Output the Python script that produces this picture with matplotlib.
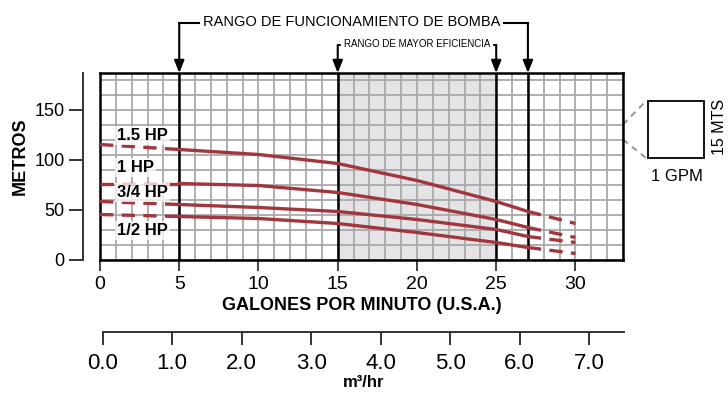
import matplotlib
matplotlib.use("Agg")
import matplotlib.pyplot as plt
from matplotlib.patches import Rectangle
from matplotlib.ticker import MultipleLocator, FormatStrFormatter

plt.rcParams['font.family'] = ['Liberation Sans', 'DejaVu Sans']

# ---------------- data ----------------
gpm_pts = [0, 5, 10, 15, 20, 25, 27, 30]
hp_labels = ["1.5 HP", "1 HP", "3/4 HP", "1/2 HP"]
hp_15 = [115, 110, 105, 96, 79, 58, 48, 36]
hp_1 = [76, 76, 74, 67, 55, 40, 32, 22]
hp_34 = [58, 55, 52, 48, 40, 30, 23, 17]
hp_12 = [45, 43, 41, 36, 27, 17, 12, 6]
label_y = [124, 92, 67, 29]
label_x = 1.1
gpm_ticks = [0, 5, 10, 15, 20, 25, 30]
m3_ticks = [0.0, 1.0, 2.0, 3.0, 4.0, 5.0, 6.0, 7.0]
y_ticks = [0, 50, 100, 150]
op_range = [5, 27]       # rango de funcionamiento
eff_range = [15, 25]     # rango de mayor eficiencia

W, H = 728, 398
fig = plt.figure(figsize=(W / 100, H / 100), dpi=100)

def fx(px):
    return px / W

def fy(py):
    return 1 - py / H

RED = "#a2363d"
GRID = "#a9a9a9"
x_max, y_max = 33, 186.5

# main grid axes
ax = fig.add_axes([fx(100), fy(259.5), fx(623) - fx(100), fy(73) - fy(259.5)])
ax.set_xlim(0, x_max)
ax.set_ylim(0, y_max)
ax.axvspan(eff_range[0], eff_range[1], color="#e4e4e6", zorder=0, lw=0)
ax.xaxis.set_major_locator(MultipleLocator(5))
ax.xaxis.set_minor_locator(MultipleLocator(1))
ax.set_yticks(list(range(0, 181, 15)))
ax.grid(True, which="both", color=GRID, lw=1.3, zorder=1)
ax.set_axisbelow(True)
ax.tick_params(axis="y", length=0, labelleft=False)
ax.tick_params(axis="x", which="major", length=8, width=1.2, direction="out",
               labelsize=14, pad=4, color="#222222")
ax.tick_params(axis="x", which="minor", length=0)
ax.set_xticks(gpm_ticks)
for s in ax.spines.values():
    s.set_linewidth(1.8)
    s.set_color("black")

for xv in op_range + eff_range:
    ax.axvline(xv, color="black", lw=1.8, zorder=3)

for vals in [hp_15, hp_1, hp_34, hp_12]:
    ax.plot(gpm_pts[:2], vals[:2], color=RED, lw=2.4, dashes=(4, 2.5), zorder=4)
    ax.plot(gpm_pts[1:7], vals[1:7], color=RED, lw=2.4, zorder=4)
    ax.plot(gpm_pts[6:], vals[6:], color=RED, lw=2.4, dashes=(4, 2.5), zorder=4)

for lab, yv in zip(hp_labels, label_y):
    ax.text(label_x, yv, lab, fontsize=12, fontweight="bold", ha="left", va="center",
            zorder=5, bbox=dict(boxstyle="square,pad=0.12", fc="white", ec="none", alpha=0.75))

ax.set_xlabel("GALONES POR MINUTO (U.S.A.)", fontsize=13, fontweight="bold", labelpad=3)

# bracket annotations (data coords above the axes)
y_top1 = y_max + 50
y_top2 = y_max + 28
arrow_kw = dict(arrowstyle="-|>,head_length=0.75,head_width=0.3", color="black", lw=1.5,
                shrinkA=0, shrinkB=0)
t1 = ax.text(15.85, y_top1 + 1.5, "RANGO DE FUNCIONAMIENTO DE BOMBA", fontsize=10.5,
             ha="center", va="center", clip_on=False)
t2 = ax.text(20.0, y_top2 + 1, "RANGO DE MAYOR EFICIENCIA", fontsize=7,
             ha="center", va="center", clip_on=False)
for r in [op_range, eff_range]:
    yt = y_top1 if r is op_range else y_top2
    ax.annotate("", xy=(r[0], y_max), xytext=(r[0], yt),
                arrowprops=arrow_kw, annotation_clip=False)
    ax.annotate("", xy=(r[1], y_max), xytext=(r[1], yt),
                arrowprops=arrow_kw, annotation_clip=False)

fig.canvas.draw()
inv = ax.transData.inverted()
gap = 4 / (523 / x_max)  # ~4 px in data units
for t, r, yt, lw in [(t1, op_range, y_top1, 1.5), (t2, eff_range, y_top2, 1.3)]:
    bb = t.get_window_extent()
    x0 = inv.transform((bb.x0, 0))[0]
    x1 = inv.transform((bb.x1, 0))[0]
    ax.plot([r[0], x0 - gap], [yt, yt], color="black", lw=lw, clip_on=False)
    ax.plot([x1 + gap, r[1]], [yt, yt], color="black", lw=lw, clip_on=False)

# inset legend square
ax.plot([33, 34.45], [135, 158.5], color="#999999", lw=1.5, ls=(0, (3, 2.5)), clip_on=False)
ax.plot([33, 34.45], [120, 101.5], color="#999999", lw=1.5, ls=(0, (3, 2.5)), clip_on=False)
ax.add_patch(Rectangle((34.55, 101.2), 3.55, 57.3, fill=False, ec="black", lw=1.3,
                       clip_on=False))
fig.text(fx(676.5), fy(176.5), "1 GPM", fontsize=12, ha="center", va="center")
fig.text(fx(720), fy(127), "15 MTS", fontsize=11.5, ha="center", va="center", rotation=90)

# detached y axis
ay = fig.add_axes([fx(82.5), fy(259.5), 0.0001, fy(73) - fy(259.5)])
ay.set_ylim(0, y_max)
ay.set_xticks([])
ay.set_yticks(y_ticks)
for k in ["top", "right", "bottom"]:
    ay.spines[k].set_visible(False)
ay.spines["left"].set_linewidth(1.4)
ay.spines["left"].set_color("#333333")
ay.patch.set_visible(False)
ay.tick_params(axis="y", length=10, width=1.4, color="#333333", labelsize=13, pad=3)
fig.text(fx(20.5), fy(156.5), "METROS", fontsize=13, fontweight="bold",
         ha="center", va="center", rotation=90)

# secondary m3/hr axis
a2 = fig.add_axes([fx(102.7), fy(331.7), fx(624) - fx(102.7), 0.0001])
a2.set_xlim(0, 7.5)
a2.set_yticks([])
a2.set_xticks(m3_ticks)
a2.xaxis.set_major_formatter(FormatStrFormatter("%.1f"))
for k in ["top", "right", "left"]:
    a2.spines[k].set_visible(False)
a2.spines["bottom"].set_linewidth(1.4)
a2.spines["bottom"].set_color("#333333")
a2.patch.set_visible(False)
a2.tick_params(axis="x", length=9, width=1.4, color="#333333", labelsize=16, pad=6)
a2.set_xlabel("m³/hr", fontsize=12, fontweight="bold", labelpad=1)

fig.savefig("out.png", dpi=100)
